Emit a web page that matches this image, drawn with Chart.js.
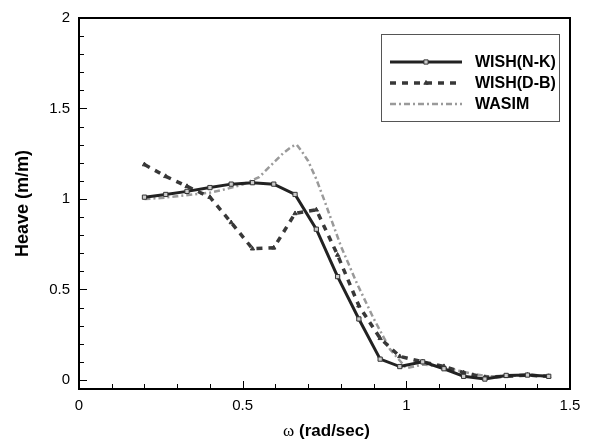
<!DOCTYPE html>
<html>
<head>
<meta charset="utf-8">
<script src="https://cdn.jsdelivr.net/npm/chart.js@4.4.1/dist/chart.umd.min.js"></script>
<style>
  html, body { margin: 0; padding: 0; background: #ffffff; }
  #wrap { width: 594px; height: 444px; }
</style>
</head>
<body>
<div id="wrap"><canvas id="c" width="594" height="444"></canvas></div>
<script>
// ---- data ----
const omegaNK = [0.2, 0.265, 0.33, 0.4, 0.465, 0.53, 0.595, 0.66, 0.725, 0.79, 0.855, 0.92, 0.98, 1.05, 1.115, 1.175, 1.24, 1.305, 1.37, 1.435];
const heaveNK = [1.01, 1.025, 1.042, 1.063, 1.082, 1.09, 1.082, 1.025, 0.833, 0.571, 0.337, 0.115, 0.074, 0.1, 0.062, 0.02, 0.005, 0.025, 0.027, 0.02];

const omegaDB = [0.2, 0.265, 0.33, 0.4, 0.465, 0.53, 0.595, 0.66, 0.725, 0.79, 0.855, 0.92, 0.98, 1.05, 1.115, 1.175, 1.24, 1.305, 1.37, 1.435];
const heaveDB = [1.19, 1.125, 1.07, 1.01, 0.87, 0.725, 0.73, 0.92, 0.94, 0.69, 0.41, 0.23, 0.13, 0.1, 0.075, 0.04, 0.015, 0.02, 0.027, 0.02];

const omegaWASIM = [0.2, 0.25, 0.3, 0.35, 0.4, 0.45, 0.5, 0.55, 0.6, 0.625, 0.65, 0.665, 0.68, 0.7, 0.725, 0.75, 0.8, 0.85, 0.9, 0.95, 1.0, 1.05, 1.1, 1.15, 1.2, 1.25, 1.3, 1.35, 1.4, 1.435];
const heaveWASIM = [1.0, 1.005, 1.015, 1.025, 1.035, 1.055, 1.08, 1.12, 1.21, 1.255, 1.29, 1.3, 1.265, 1.21, 1.11, 0.99, 0.74, 0.53, 0.34, 0.17, 0.065, 0.085, 0.075, 0.055, 0.035, 0.02, 0.02, 0.025, 0.022, 0.02];

const seriesNames = ['WISH(N-K)', 'WISH(D-B)', 'WASIM'];
const xMajorTicks = [0, 0.5, 1, 1.5];
const xMinorTicks = [0.1, 0.2, 0.3, 0.4, 0.6, 0.7, 0.8, 0.9, 1.1, 1.2, 1.3, 1.4];
const yMajorTicks = [0, 0.5, 1, 1.5, 2];
const yMinorTicks = [0.1, 0.2, 0.3, 0.4, 0.6, 0.7, 0.8, 0.9, 1.1, 1.2, 1.3, 1.4, 1.6, 1.7, 1.8, 1.9];
const xTitleSymbol = 'ω';
const xTitleText = '(rad/sec)';
const yTitleText = 'Heave (m/m)';

const toPts = (xs, ys) => xs.map((x, i) => ({ x: x, y: ys[i] }));

const SANS = '"Liberation Sans", Arial, sans-serif';
const SERIF = '"Liberation Serif", "Times New Roman", serif';

const framePlugin = {
  id: 'framePlugin',
  afterDatasetsDraw(chart) {
    const ctx = chart.ctx;
    const a = chart.chartArea;
    const xs = chart.scales.x, ys = chart.scales.y;
    ctx.save();
    ctx.strokeStyle = '#000';
    ctx.lineWidth = 2;
    ctx.strokeRect(a.left, a.top, a.right - a.left, a.bottom - a.top);
    // inward ticks
    ctx.lineWidth = 1;
    ctx.beginPath();
    xMajorTicks.forEach(v => { const p = Math.round(xs.getPixelForValue(v)) + 0.5; ctx.moveTo(p, a.bottom); ctx.lineTo(p, a.bottom - 8); });
    xMinorTicks.forEach(v => { const p = Math.round(xs.getPixelForValue(v)) + 0.5; ctx.moveTo(p, a.bottom); ctx.lineTo(p, a.bottom - 5); });
    yMajorTicks.forEach(v => { const p = Math.round(ys.getPixelForValue(v)) + 0.5; ctx.moveTo(a.left, p); ctx.lineTo(a.left + 8, p); });
    yMinorTicks.forEach(v => { const p = Math.round(ys.getPixelForValue(v)) + 0.5; ctx.moveTo(a.left, p); ctx.lineTo(a.left + 5, p); });
    ctx.stroke();

    // legend box
    const bx = 381, by = 34, bw = 178, bh = 87;
    ctx.fillStyle = '#fff';
    ctx.fillRect(bx, by, bw, bh);
    ctx.lineWidth = 1;
    ctx.strokeStyle = '#555';
    ctx.strokeRect(bx + 0.5, by + 0.5, bw, bh);
    const rows = [62, 83, 104];
    chart.data.datasets.forEach((ds, i) => {
      const y = rows[i];
      ctx.save();
      ctx.strokeStyle = ds.borderColor;
      ctx.lineWidth = ds.borderWidth;
      ctx.setLineDash(ds.borderDash || []);
      ctx.beginPath();
      ctx.moveTo(390, y);
      ctx.lineTo(462, y);
      ctx.stroke();
      ctx.setLineDash([]);
      if (ds.pointRadius > 0) {
        ctx.fillStyle = ds.pointBackgroundColor;
        ctx.strokeStyle = ds.pointBorderColor;
        ctx.lineWidth = 1;
        Chart.helpers.drawPoint(ctx, { pointStyle: ds.pointStyle, radius: ds.pointRadius, borderWidth: 1, rotation: 0 }, 426, y);
      }
      ctx.fillStyle = '#000';
      ctx.font = 'bold 16px ' + SANS;
      ctx.textBaseline = 'middle';
      ctx.textAlign = 'left';
      ctx.fillText(ds.label, 475, y + 1);
      ctx.restore();
    });

    // axis titles
    ctx.fillStyle = '#000';
    ctx.textBaseline = 'middle';
    const rest = ' ' + xTitleText;
    ctx.font = '17px ' + SERIF;
    const w1 = ctx.measureText(xTitleSymbol).width;
    ctx.font = 'bold 17px ' + SANS;
    const w2 = ctx.measureText(rest).width;
    const cx = (a.left + a.right) / 2 + 2;
    let sx = cx - (w1 + w2) / 2;
    ctx.textAlign = 'left';
    ctx.font = '17px ' + SERIF;
    ctx.fillText(xTitleSymbol, sx, 432);
    ctx.font = 'bold 17px ' + SANS;
    ctx.fillText(rest, sx + w1, 431);

    ctx.save();
    ctx.translate(23, (a.top + a.bottom) / 2);
    ctx.rotate(-Math.PI / 2);
    ctx.textAlign = 'center';
    ctx.font = 'bold 18px ' + SANS;
    ctx.fillText(yTitleText, 0, 0);
    ctx.restore();
    ctx.restore();
  }
};

new Chart(document.getElementById('c'), {
  type: 'line',
  data: {
    datasets: [
      {
        label: seriesNames[0],
        data: toPts(omegaNK, heaveNK),
        borderColor: '#222222',
        borderWidth: 3,
        pointStyle: 'rect',
        pointRadius: 3,
        pointBackgroundColor: '#cccccc',
        pointBorderColor: '#333333',
        pointBorderWidth: 1,
        tension: 0,
        order: 1
      },
      {
        label: seriesNames[1],
        data: toPts(omegaDB, heaveDB),
        borderColor: '#383838',
        borderWidth: 3.5,
        borderDash: [6, 6],
        pointStyle: 'triangle',
        pointRadius: 2.5,
        pointBackgroundColor: '#383838',
        pointBorderColor: '#383838',
        pointBorderWidth: 1,
        tension: 0,
        order: 2
      },
      {
        label: seriesNames[2],
        data: toPts(omegaWASIM, heaveWASIM),
        borderColor: '#9a9a9a',
        borderWidth: 2.5,
        borderDash: [6, 3, 2, 3],
        pointRadius: 0,
        tension: 0,
        order: 3
      }
    ]
  },
  options: {
    responsive: false,
    animation: false,
    devicePixelRatio: 1,
    layout: { padding: { top: 12, right: 24, left: 0, bottom: 0 } },
    plugins: { legend: { display: false }, tooltip: { enabled: false } },
    scales: {
      x: {
        type: 'linear',
        min: 0, max: 1.5,
        afterBuildTicks: s => { s.ticks = xMajorTicks.map(v => ({ value: v })); },
        afterFit: s => { s.height = 55; },
        grid: { display: false, drawTicks: false },
        border: { display: false },
        ticks: {
          padding: 8,
          color: '#000',
          font: { family: SANS, size: 15 },
          maxRotation: 0,
          callback: v => String(v)
        }
      },
      y: {
        type: 'linear',
        min: -0.05, max: 2,
        afterBuildTicks: s => { s.ticks = yMajorTicks.map(v => ({ value: v })); },
        afterFit: s => { s.width = 79; },
        grid: { display: false, drawTicks: false },
        border: { display: false },
        ticks: {
          padding: 9,
          color: '#000',
          font: { family: SANS, size: 15 },
          callback: v => String(v)
        }
      }
    }
  },
  plugins: [framePlugin]
});
</script>
</body>
</html>
